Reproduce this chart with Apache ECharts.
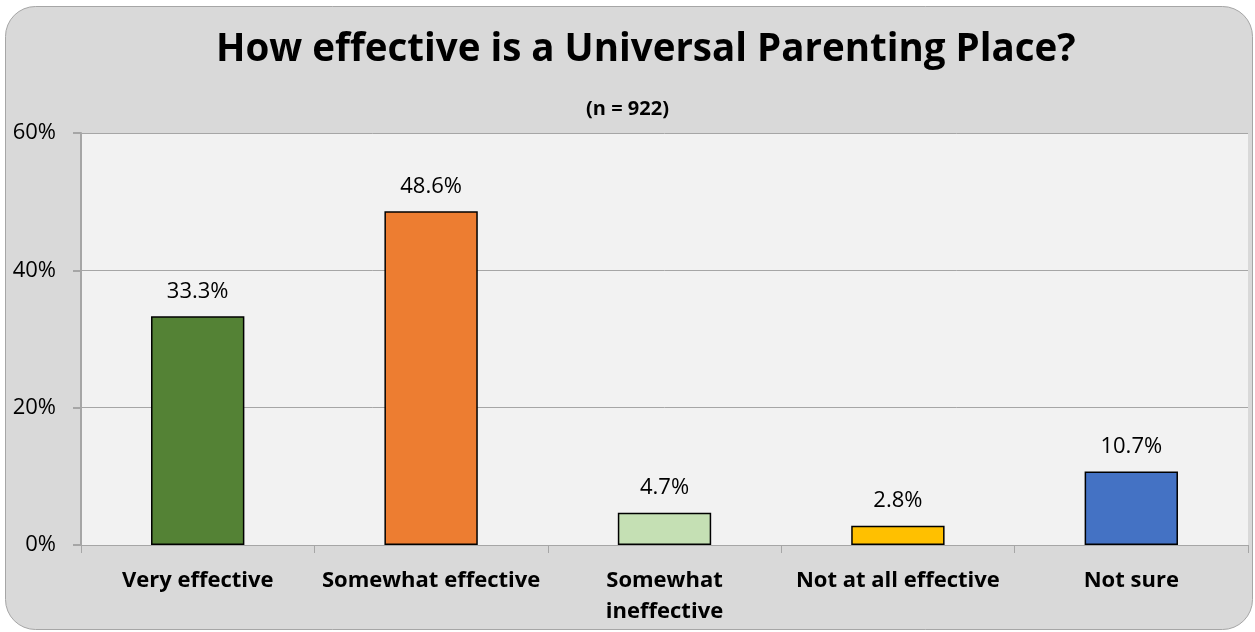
<!DOCTYPE html>
<html><head><meta charset="utf-8">
<script src="https://cdn.jsdelivr.net/npm/echarts@6/dist/echarts.min.js"></script>
<style>html,body{margin:0;padding:0;background:#fff;}#c{width:1255px;height:632px;}</style>
</head><body><div id="c"></div>
<script>
const categories = ['Very effective', 'Somewhat effective', 'Somewhat\nineffective', 'Not at all effective', 'Not sure'];
const values = [33.3, 48.6, 4.7, 2.8, 10.7];
const barColors = ['#548235', '#ED7D31', '#C5E0B4', '#FFC000', '#4472C4'];
const yTicks = [0, 20, 40, 60];
const titleText = 'How effective is a Universal Parenting Place?';
const subtitleText = '(n = 922)';

const font = '"Open Sans", "Liberation Sans", sans-serif';
const chart = echarts.init(document.getElementById('c'));
chart.setOption({
  animation: false,
  backgroundColor: '#ffffff',
  graphic: [{
    type: 'rect', z: -10, silent: true,
    shape: { x: 5.5, y: 6.5, width: 1247, height: 623, r: 30 },
    style: { fill: '#D9D9D9', stroke: '#A6A6A6', lineWidth: 1 }
  }],
  title: [{
    text: titleText, left: 211, top: 26,
    textStyle: { fontFamily: font, fontWeight: 'bold', fontSize: 38.5, color: '#000' }
  }, {
    text: subtitleText, left: 'center', top: 94,
    textStyle: { fontFamily: font, fontWeight: 'bold', fontSize: 20, color: '#000' }
  }],
  grid: { left: 81, right: 7, top: 133, bottom: 87, show: true, backgroundColor: '#F2F2F2', borderWidth: 0 },
  xAxis: {
    type: 'category', data: categories,
    axisLine: { lineStyle: { color: '#A6A6A6', width: 1 } },
    axisTick: { show: true, length: 8, lineStyle: { color: '#A6A6A6' } },
    axisLabel: { fontFamily: font, fontWeight: 'bold', fontSize: 22, color: '#000', margin: 20, lineHeight: 31, interval: 0 }
  },
  yAxis: {
    type: 'value', min: 0, max: 60, interval: 20,
    axisLine: { show: true, lineStyle: { color: '#A6A6A6', width: 2 } },
    axisTick: { show: true, length: 8, lineStyle: { color: '#A6A6A6', width: 2 } },
    splitLine: { lineStyle: { color: '#A6A6A6', width: 1 } },
    axisLabel: { fontFamily: font, fontSize: 22, color: '#000', margin: 25,
      formatter: v => yTicks.includes(v) ? v + '%' : '' }
  },
  series: [{
    type: 'bar', barWidth: '40%',
    data: values.map((v, i) => ({ value: v, itemStyle: { color: barColors[i] } })),
    itemStyle: { borderColor: '#000', borderWidth: 1.5 },
    label: { show: true, position: 'top', distance: 14, fontFamily: font, fontSize: 22, color: '#000',
      formatter: p => p.value.toFixed(1) + '%' }
  }]
});
</script></body></html>
